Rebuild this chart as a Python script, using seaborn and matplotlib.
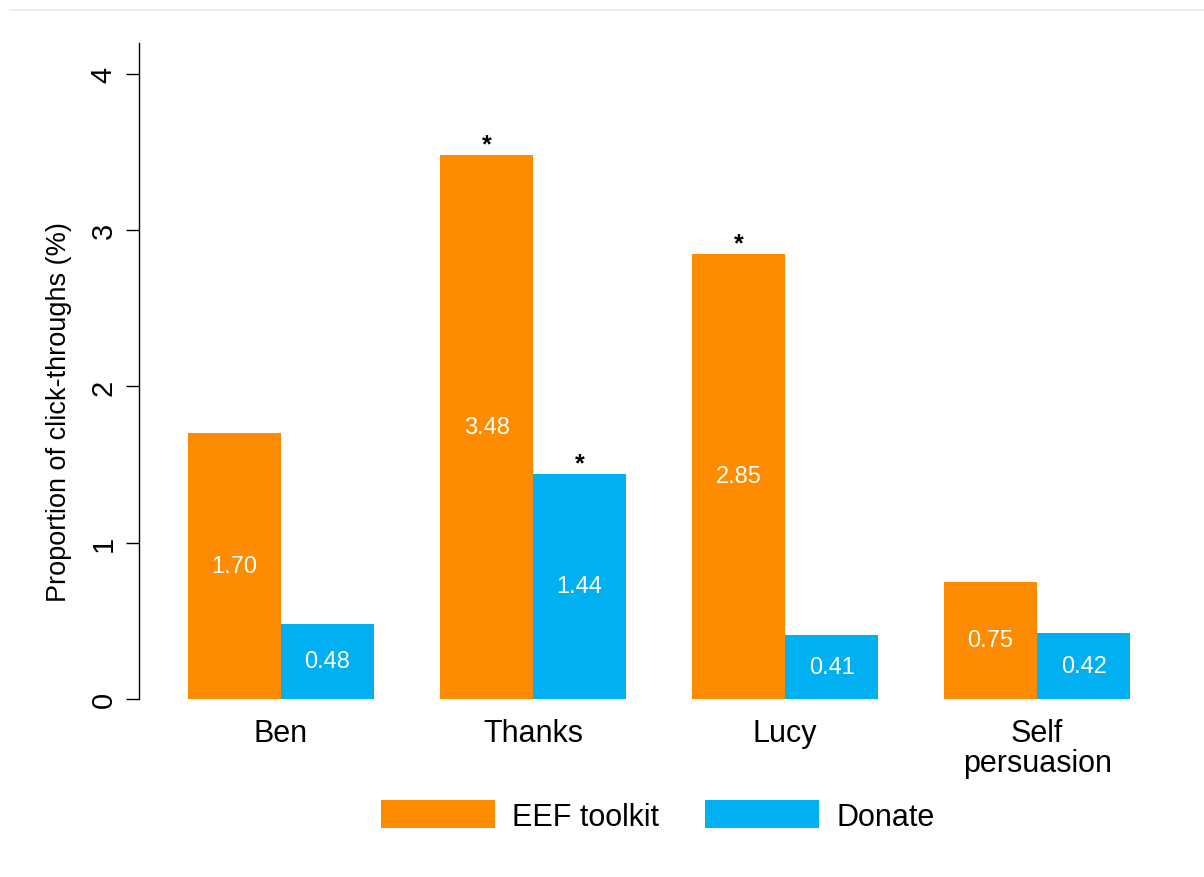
import matplotlib
matplotlib.use("Agg")
import matplotlib.pyplot as plt
import seaborn as sns
import pandas as pd
from matplotlib.lines import Line2D

categories = ["Ben", "Thanks", "Lucy", "Self\npersuasion"]
series = ["EEF toolkit", "Donate"]
eef_values = [1.70, 3.48, 2.85, 0.75]
donate_values = [0.48, 1.44, 0.41, 0.42]
eef_sig = [False, True, True, False]
donate_sig = [False, True, False, False]
colors = ["#FF8C00", "#00B0F0"]

df = pd.DataFrame({
    "category": categories * 2,
    "series": [series[0]] * 4 + [series[1]] * 4,
    "value": eef_values + donate_values,
    "sig": eef_sig + donate_sig,
})

sns.set_theme(style="white")
plt.rcParams["font.family"] = ["Liberation Sans", "DejaVu Sans"]
plt.rcParams["text.color"] = "black"
plt.rcParams["axes.labelcolor"] = "black"
plt.rcParams["xtick.color"] = "black"
plt.rcParams["ytick.color"] = "black"

fig = plt.figure(figsize=(12.04, 8.78), dpi=100)
ax = fig.add_axes([139 / 1204, 1 - 700 / 878, (1180 - 139) / 1204, (700 - 44) / 878])

sns.barplot(data=df, x="category", y="value", hue="series", order=categories,
            hue_order=series, palette=colors, width=0.738, saturation=1,
            linewidth=0, ax=ax, legend=True)

for container, vals, sigs in zip(ax.containers, [eef_values, donate_values], [eef_sig, donate_sig]):
    for bar, v, s in zip(container, vals, sigs):
        cx = bar.get_x() + bar.get_width() / 2
        ax.text(cx, v / 2, f"{v:.2f}", color="white", ha="center", va="center", fontsize=17)
        if s:
            ax.text(cx, v - 0.01, "*", color="black", ha="center", va="bottom",
                    fontsize=18, fontweight="bold")

ax.set_xlim(-0.5635, 3.567)
ax.set_ylim(0, 4.198)
ax.set_yticks([0, 1, 2, 3, 4])
ax.set_yticklabels(["0", "1", "2", "3", "4"], rotation=90, va="center", fontsize=21)
ax.tick_params(axis="y", which="both", length=9.5, width=1, color="black", left=True, pad=6)
ax.tick_params(axis="x", length=0, labelsize=22, pad=14)
for lbl in ax.get_xticklabels():
    lbl.set_linespacing(1.0)
ax.set_xlabel("")
ax.set_ylabel("Proportion of click-throughs (%)", fontsize=19.5)
ax.yaxis.set_label_coords(-0.0644, 0.439)
for side in ["top", "right", "bottom"]:
    ax.spines[side].set_visible(False)
ax.spines["left"].set_color("black")
ax.spines["left"].set_linewidth(1)

leg = ax.get_legend()
if leg is not None:
    leg.remove()
handles = [plt.Rectangle((0, 0), 1, 1, color=c, linewidth=0) for c in colors]
fig.legend(handles, series, loc="center", bbox_to_anchor=(658 / 1204, 1 - 817 / 878),
           ncol=2, frameon=False, fontsize=22, handlelength=3.73, handleheight=1.0,
           handletextpad=0.58, columnspacing=1.5)

fig.add_artist(Line2D([0.008, 1.0], [1 - 11 / 878, 1 - 11 / 878], color="#e6ecee", lw=1.2))

fig.savefig("out.png", dpi=100, facecolor="white")
